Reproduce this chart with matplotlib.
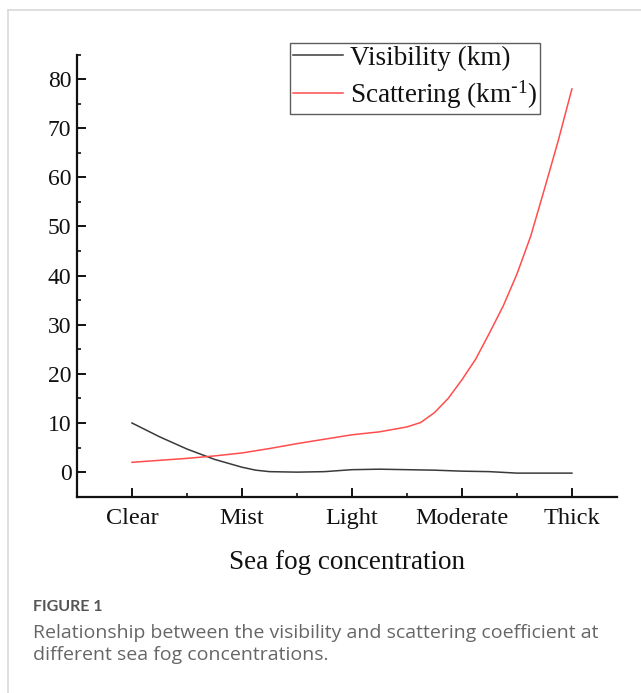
import matplotlib
matplotlib.use("Agg")
import matplotlib.pyplot as plt
from matplotlib.lines import Line2D
from matplotlib.ticker import MultipleLocator

categories = ["Clear", "Mist", "Light", "Moderate", "Thick"]
vis_pos = [0, 0.25, 0.5, 0.75, 1.0, 1.125, 1.25, 1.5, 1.75, 2.0, 2.25, 2.5, 2.75, 3.0, 3.25, 3.5, 3.75, 4.0]
visibility = [10, 7.2, 4.7, 2.6, 1.0, 0.4, 0.1, 0.0, 0.1, 0.5, 0.6, 0.5, 0.4, 0.2, 0.1, -0.2, -0.2, -0.2]
sca_pos = [0, 0.25, 0.5, 0.75, 1.0, 1.25, 1.5, 1.75, 2.0, 2.25, 2.5, 2.625, 2.75, 2.875,
           3.0, 3.125, 3.25, 3.375, 3.5, 3.625, 3.75, 3.875, 4.0]
scattering = [2.0, 2.4, 2.8, 3.3, 3.9, 4.8, 5.8, 6.7, 7.6, 8.2, 9.2, 10.1, 12.1, 15.0,
              18.8, 23.0, 28.3, 33.8, 40.3, 48.0, 57.6, 67.4, 78.0]
yticks = [0, 10, 20, 30, 40, 50, 60, 70, 80]

W, H = 641, 693
fig = plt.figure(figsize=(W / 100, H / 100), dpi=100)
plt.rcParams["mathtext.default"] = "regular"

# card border (top and left)
fig.add_artist(Line2D([7.5 / W, 1], [1 - 9.5 / H, 1 - 9.5 / H], color="#d9d9d9", lw=1.2))
fig.add_artist(Line2D([7.5 / W, 7.5 / W], [0, 1 - 9.5 / H], color="#d9d9d9", lw=1.2))

ax = fig.add_axes([77 / W, 1 - 496.7 / H, (617 - 77) / W, (496.7 - 54.5) / H])
serif = "Liberation Serif"
ax.plot(vis_pos, visibility, color="#3a3a3a", lw=1.1, label="Visibility (km)")
ax.plot(sca_pos, scattering, color="#ff4d4d", lw=1.1,
        label="Scattering (km$^{\\mathregular{\\text{-}1}}$)")

ax.set_xlim(-0.5, 4.41)
ax.set_ylim(-5, 85)
ax.set_xticks(range(len(categories)))
ax.set_xticklabels(categories, fontfamily=serif, fontsize=17.5)
ax.xaxis.set_minor_locator(MultipleLocator(0.5))
ax.set_yticks(yticks)
ax.set_yticklabels([str(v) for v in yticks], fontfamily=serif, fontsize=17)
ax.yaxis.set_minor_locator(MultipleLocator(5))

for s in ["top", "right"]:
    ax.spines[s].set_visible(False)
for s in ["left", "bottom"]:
    ax.spines[s].set_linewidth(1.6)
    ax.spines[s].set_color("#111111")

ax.tick_params(which="major", direction="in", length=6.5, width=1.4, color="#111111", labelcolor="#111111")
ax.tick_params(which="minor", direction="in", length=3, width=1.2, color="#111111")
ax.tick_params(axis="x", which="major", pad=8)
ax.tick_params(axis="y", which="major", pad=4)

ax.set_xlabel("Sea fog concentration", fontfamily=serif, fontsize=19.5, color="#111111", labelpad=15)

leg = ax.legend(loc="upper left", bbox_to_anchor=(290 / W, 1 - 43 / H), bbox_transform=fig.transFigure,
                prop={"family": serif, "size": 19.5}, frameon=True, fancybox=False,
                handlelength=1.85, handletextpad=0.27, borderpad=0.1, labelspacing=0.28,
                borderaxespad=0)
leg.get_frame().set_edgecolor("#333333")
leg.get_frame().set_linewidth(1.0)
for t in leg.get_texts():
    t.set_color("#111111")

fig.text(33 / W, 1 - 607 / H, "FIGURE 1", fontfamily="Lato", fontweight="bold",
         fontsize=11.5, color="#555555", va="center", ha="left")
fig.text(33 / W, 1 - 633 / H, "Relationship between the visibility and scattering coefficient at",
         fontfamily="Open Sans", fontsize=14, color="#666666", va="center", ha="left")
fig.text(33 / W, 1 - 655 / H, "different sea fog concentrations.",
         fontfamily="Open Sans", fontsize=14, color="#666666", va="center", ha="left")

fig.savefig("out.png", dpi=100)
